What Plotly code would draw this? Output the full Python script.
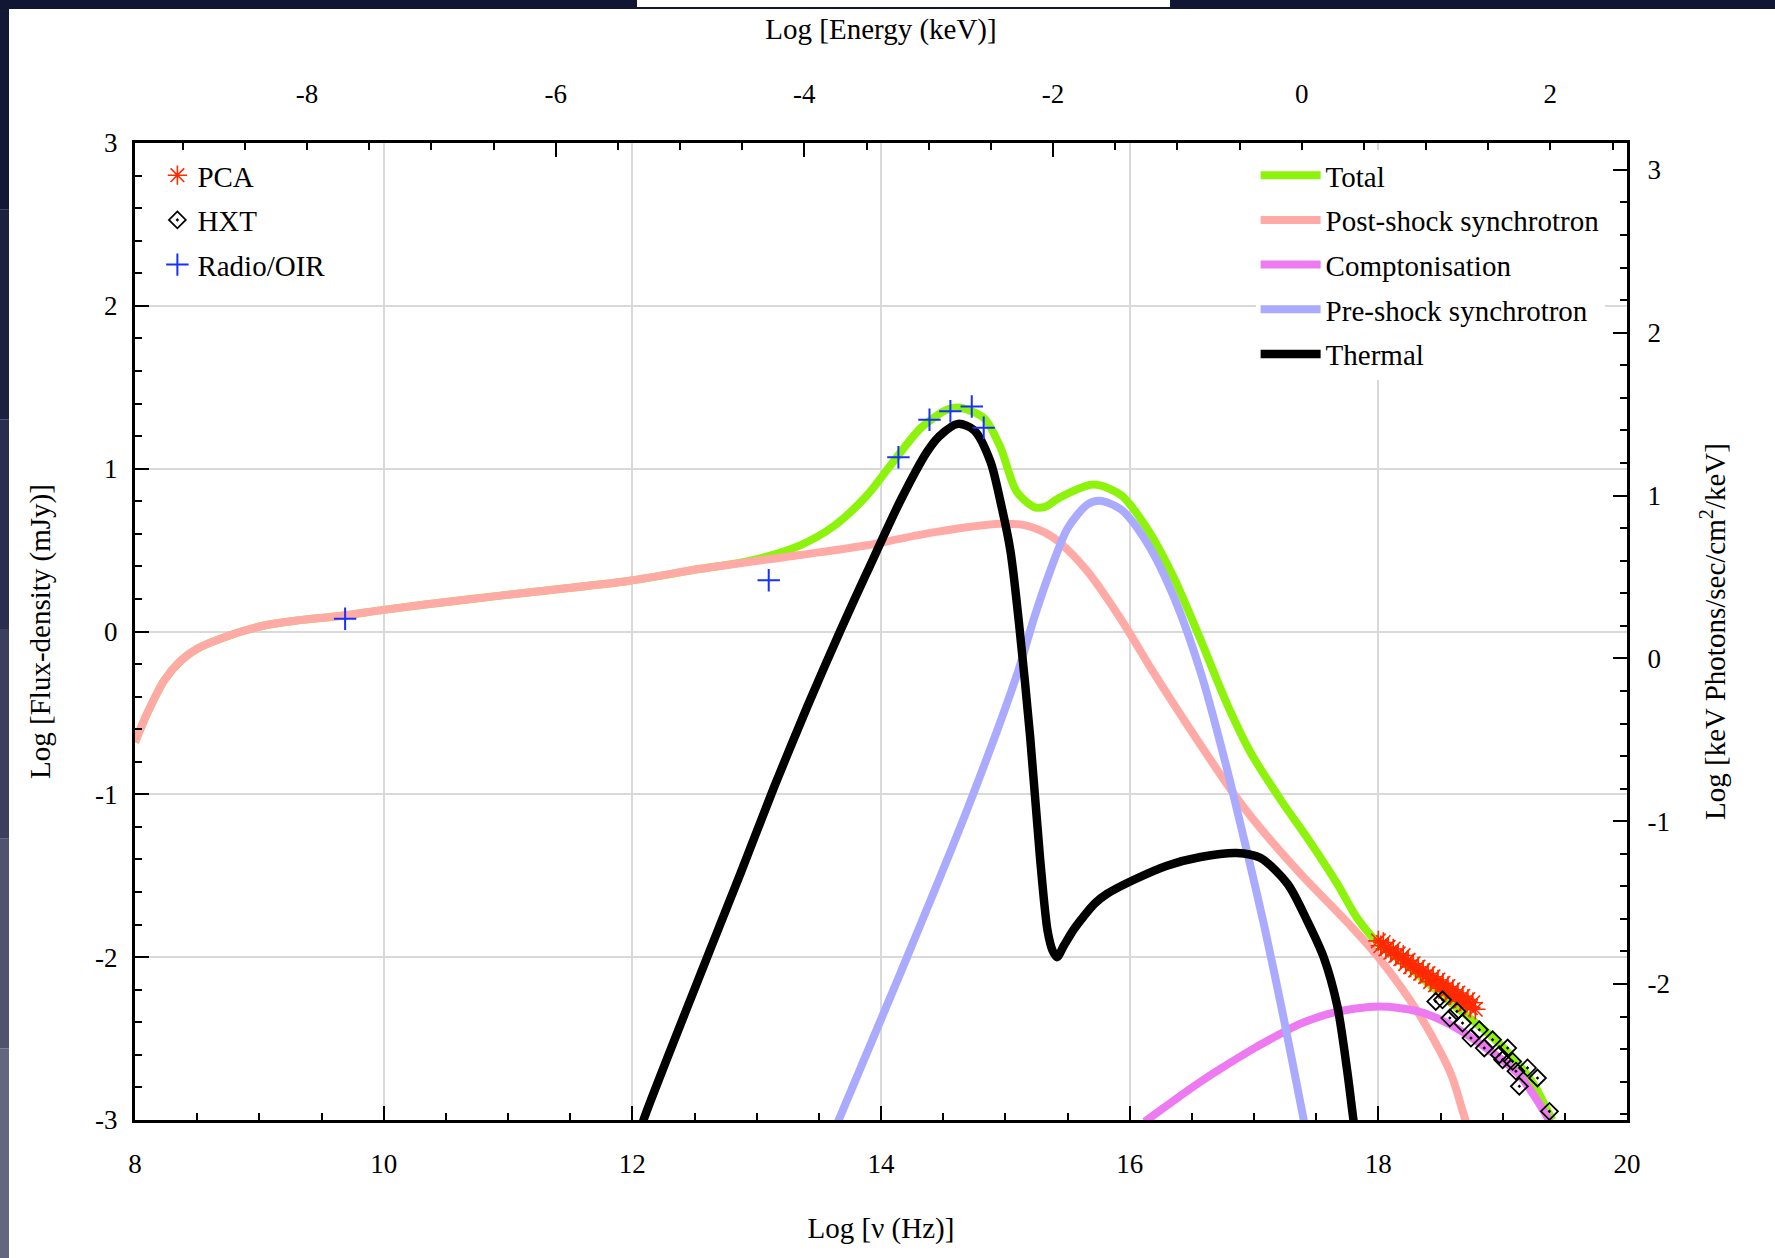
import plotly.graph_objects as go

# ---------------- data ----------------
# Log nu (Hz) / Log flux density (mJy)
total_x = [8.0, 8.1, 8.235, 8.37, 8.5, 8.72, 9.04, 9.3, 9.68, 10.0, 10.64, 11.18, 11.98, 12.55,
           12.85, 13.08, 13.35, 13.62, 13.89, 14.10, 14.32, 14.53, 14.64, 14.83, 14.96, 15.09,
           15.23, 15.32, 15.44, 15.71, 15.93, 16.14, 16.35, 16.57, 16.78, 16.97, 17.22, 17.44,
           17.67, 17.83, 18.0, 18.2, 18.4, 18.6, 18.85, 19.0, 19.12, 19.25, 19.36, 19.40]
total_y = [-0.68, -0.50, -0.30, -0.178, -0.106, -0.035, 0.037, 0.067, 0.098, 0.133, 0.194, 0.241,
           0.312, 0.385, 0.42, 0.46, 0.529, 0.647, 0.838, 1.044, 1.25, 1.362, 1.374, 1.309,
           1.132, 0.86, 0.765, 0.765, 0.824, 0.903, 0.838, 0.633, 0.339, -0.05, -0.44, -0.74,
           -1.04, -1.28, -1.55, -1.76, -1.914, -2.03, -2.16, -2.29, -2.446, -2.55, -2.65,
           -2.78, -2.94, -3.0]

post_x = [8.0, 8.1, 8.235, 8.37, 8.5, 8.72, 9.04, 9.3, 9.68, 10.0, 10.64, 11.18, 11.98, 12.55,
          13.35, 13.89, 14.42, 14.96, 15.17, 15.36, 15.44, 15.66, 15.93, 16.19, 16.46, 16.84,
          17.0, 17.37, 17.78, 18.0, 18.32, 18.58, 18.70, 18.73]
post_y = [-0.68, -0.50, -0.30, -0.178, -0.106, -0.035, 0.037, 0.067, 0.098, 0.133, 0.194, 0.241,
          0.312, 0.385, 0.47, 0.53, 0.609, 0.662, 0.650, 0.59, 0.545, 0.37, 0.075, -0.25,
          -0.57, -1.00, -1.16, -1.485, -1.81, -2.00, -2.34, -2.71, -3.0, -3.06]

compt_x = [16.12, 16.14, 16.4, 16.57, 16.7, 17.0, 17.24, 17.37, 17.64, 18.0, 18.32, 18.58,
           18.85, 19.12, 19.34, 19.37, 19.39]
compt_y = [-3.01, -3.0, -2.855, -2.765, -2.70, -2.56, -2.46, -2.41, -2.34, -2.303, -2.333,
           -2.415, -2.548, -2.712, -2.957, -3.0, -3.03]

pre_x = [13.63, 13.66, 14.155, 14.69, 15.1, 15.23, 15.36, 15.5, 15.66, 15.76, 15.93, 16.14,
         16.35, 16.57, 16.78, 16.94, 17.08, 17.24, 17.40, 17.42]
pre_y = [-3.06, -3.0, -2.10, -1.10, -0.25, 0.08, 0.37, 0.633, 0.78, 0.803, 0.75, 0.545, 0.222,
         -0.248, -0.836, -1.34, -1.80, -2.38, -3.0, -3.08]

thermal_x = [12.06, 12.09, 12.55, 12.87, 13.14, 13.41, 13.67, 13.89, 14.16, 14.37, 14.47, 14.62,
             14.75, 14.88, 14.96, 15.04, 15.11, 15.2, 15.28, 15.34, 15.38, 15.415, 15.47, 15.55,
             15.63, 15.72, 15.82, 16.03, 16.30, 16.57, 16.86, 17.05, 17.27, 17.43, 17.56, 17.67,
             17.75, 17.80, 17.82]
thermal_y = [-3.08, -3.0, -2.10, -1.485, -0.956, -0.456, 0.0, 0.368, 0.809, 1.103, 1.20, 1.275,
             1.235, 1.044, 0.80, 0.50, 0.05, -0.65, -1.40, -1.84, -1.96, -2.0, -1.93, -1.83,
             -1.75, -1.67, -1.61, -1.526, -1.438, -1.385, -1.36, -1.39, -1.55, -1.78, -2.0,
             -2.3, -2.7, -3.0, -3.1]

pca_x = [18.00, 18.02, 18.04, 18.06, 18.08, 18.10, 18.12, 18.14, 18.16, 18.18, 18.20, 18.22,
         18.24, 18.26, 18.28, 18.30, 18.32, 18.34, 18.36, 18.38, 18.40, 18.42, 18.44, 18.46,
         18.48, 18.50, 18.52, 18.54, 18.56, 18.58, 18.60, 18.62, 18.64, 18.66, 18.68, 18.70,
         18.72, 18.74, 18.76, 18.78]
pca_y = [-1.90, -1.93, -1.91, -1.95, -1.94, -1.97, -1.95, -1.99, -1.98, -2.01, -1.99, -2.04,
         -2.02, -2.06, -2.04, -2.08, -2.06, -2.10, -2.08, -2.12, -2.10, -2.15, -2.12, -2.17,
         -2.14, -2.19, -2.16, -2.21, -2.18, -2.23, -2.20, -2.25, -2.22, -2.27, -2.24, -2.29,
         -2.26, -2.31, -2.28, -2.32]
pca_err = 0.035

hxt_x = [18.462, 18.516, 18.632, 18.575, 18.677, 18.745, 18.812, 18.852, 18.919, 18.973,
         19.0, 19.04, 19.08, 19.107, 19.134, 19.20, 19.28, 19.376]
hxt_y = [-2.272, -2.262, -2.333, -2.374, -2.405, -2.497, -2.446, -2.558, -2.507, -2.599,
         -2.63, -2.558, -2.64, -2.70, -2.793, -2.68, -2.742, -2.947]

radio_x = [9.69, 13.097, 14.14, 14.39, 14.558, 14.73, 14.826]
radio_y = [0.078, 0.315, 1.07, 1.30, 1.353, 1.382, 1.251]

x_range = [8, 20]
y_range = [-3, 3]
x_ticks = [8, 10, 12, 14, 16, 18, 20]
y_ticks = [-3, -2, -1, 0, 1, 2, 3]
top_ticks = [-8, -6, -4, -2, 0, 2]
right_ticks = [-2, -1, 0, 1, 2, 3]

# secondary-axis conversions
LOG_H = -17.3835      # log E(keV) = log nu(Hz) + LOG_H
LOG_CONV = 0.165      # right axis = left axis + LOG_CONV
top_range = [x_range[0] + LOG_H, x_range[1] + LOG_H]
right_range = [y_range[0] + LOG_CONV, y_range[1] + LOG_CONV]

def lab(v):
    return str(v).replace("\u2212", "-")

# ---------------- styles ----------------
FONT = "Liberation Serif"
LW = 8
C_TOTAL = "#8ef30c"
C_POST = "#ffaaa6"
C_COMP = "#ee7af2"
C_PRE = "#aaaaff"
C_THERM = "#000000"

W, H = 1775, 1258
ML, MR, MT, MB = 135, 148, 143, 138

fig = go.Figure()

def add_line(x, y, name, color, grp, width=LW):
    fig.add_trace(go.Scatter(
        x=x, y=y, mode="lines", name=name, legend="legend2", legendgroup=grp,
        line=dict(color=color, width=width, shape="spline", smoothing=0.8),
        hoverinfo="x+y+name"))

add_line(total_x, total_y, "Total", C_TOTAL, "g1")
add_line(post_x, post_y, "Post-shock synchrotron", C_POST, "g2")
add_line(compt_x, compt_y, "Comptonisation", C_COMP, "g3")
add_line(pre_x, pre_y, "Pre-shock synchrotron", C_PRE, "g4")
add_line(thermal_x, thermal_y, "Thermal", C_THERM, "g5", width=8.5)

fig.add_trace(go.Scatter(
    x=pca_x, y=pca_y, mode="markers", name="PCA", legend="legend", legendgroup="p1",
    error_y=dict(type="constant", value=pca_err, color="#ff2a00", thickness=1.3, width=0),
    marker=dict(symbol="asterisk-open", size=17, color="#ff2a00",
                line=dict(color="#ff2a00", width=1.6))))
fig.add_trace(go.Scatter(
    x=hxt_x, y=hxt_y, mode="markers", name="HXT", legend="legend", legendgroup="p2",
    marker=dict(symbol="diamond-open-dot", size=13, color="#000000",
                line=dict(color="#000000", width=1.8))))
fig.add_trace(go.Scatter(
    x=radio_x, y=radio_y, mode="markers", name="Radio/OIR", legend="legend", legendgroup="p3",
    marker=dict(symbol="cross-thin-open", size=16, color="#1530ff",
                line=dict(color="#1530ff", width=2))))

# empty trace so the secondary (top/right) axes are drawn
fig.add_trace(go.Scatter(x=[], y=[], xaxis="x2", yaxis="y2", showlegend=False,
                         hoverinfo="skip"))

tickfont = dict(family=FONT, size=27, color="black")
titlefont = dict(family=FONT, size=29, color="black")
common = dict(showline=True, linecolor="black", linewidth=3, ticks="inside",
              tickcolor="black", tickwidth=2, ticklen=14, tickfont=tickfont,
              zeroline=False, automargin=False)

def minor(step):
    return dict(dtick=step, tick0=0, ticks="inside", ticklen=7, tickwidth=2,
                tickcolor="black", showgrid=False)

fig.update_layout(
    width=W, height=H,
    margin=dict(l=ML, r=MR, t=MT, b=MB),
    paper_bgcolor="white", plot_bgcolor="white",
    font=dict(family=FONT, color="black"),
    xaxis=dict(range=x_range, tickvals=x_ticks, ticktext=[lab(v) for v in x_ticks],
               showgrid=True, gridcolor="#d9d9d9", gridwidth=1.6, ticklabelstandoff=18,
               minor=minor(0.5),
               title=dict(text="Log [ν (Hz)]", font=titlefont, standoff=40), **common),
    yaxis=dict(range=y_range, tickvals=y_ticks, ticktext=[lab(v) for v in y_ticks],
               showgrid=True, gridcolor="#d9d9d9", gridwidth=1.6, ticklabelstandoff=9,
               minor=minor(0.2),
               title=dict(text="Log [Flux-density (mJy)]", font=titlefont, standoff=36),
               **common),
    xaxis2=dict(range=top_range, overlaying="x", side="top", anchor="y",
                tickvals=top_ticks, ticktext=[lab(v) for v in top_ticks],
                showgrid=False, ticklabelstandoff=26, minor=minor(0.5),
                title=dict(text="Log [Energy (keV)]", font=titlefont, standoff=32), **common),
    yaxis2=dict(range=right_range, overlaying="y", side="right", anchor="x",
                tickvals=right_ticks, ticktext=[lab(v) for v in right_ticks],
                showgrid=False, ticklabelstandoff=12, minor=minor(0.2),
                title=dict(text="Log [keV Photons/sec/cm<sup>2</sup>/keV]", font=titlefont,
                           standoff=36), **common),
    legend=dict(x=0.015, y=0.993, xanchor="left", yanchor="top", bgcolor="white",
                borderwidth=0, font=dict(family=FONT, size=29, color="black"),
                tracegroupgap=4, itemwidth=30),
    legend2=dict(x=0.985, y=0.993, xanchor="right", yanchor="top", bgcolor="white",
                 borderwidth=0, font=dict(family=FONT, size=29, color="black"),
                 tracegroupgap=4, itemwidth=60),
    showlegend=True,
)

# dark frame strips of the original page (decoration around the figure)
pw, ph = W - ML - MR, H - MT - MB
def px_x(p):
    return (p - ML) / pw
def px_y(p):
    return 1 - (p - MT) / ph

strip_cols = ["#131836", "#1c2140", "#2a2e4e", "#3c3f5e", "#50536e", "#63667f"]
n = len(strip_cols)
for i, col in enumerate(strip_cols):
    fig.add_shape(type="rect", xref="paper", yref="paper", layer="above",
                  x0=px_x(0), x1=px_x(9), y0=px_y(H * (i + 1) / n), y1=px_y(H * i / n),
                  fillcolor=col, line=dict(width=0))
fig.add_shape(type="rect", xref="paper", yref="paper", layer="above",
              x0=px_x(0), x1=px_x(W), y0=px_y(9), y1=px_y(0),
              fillcolor="#111632", line=dict(width=0))
fig.add_shape(type="rect", xref="paper", yref="paper", layer="above",
              x0=px_x(637), x1=px_x(1170), y0=px_y(7), y1=px_y(0),
              fillcolor="white", line=dict(width=0))

fig.write_html("out.html",
               config={"displayModeBar": False},
               post_script="document.body.style.margin='0';"
                           "document.body.style.overflow='hidden';")
